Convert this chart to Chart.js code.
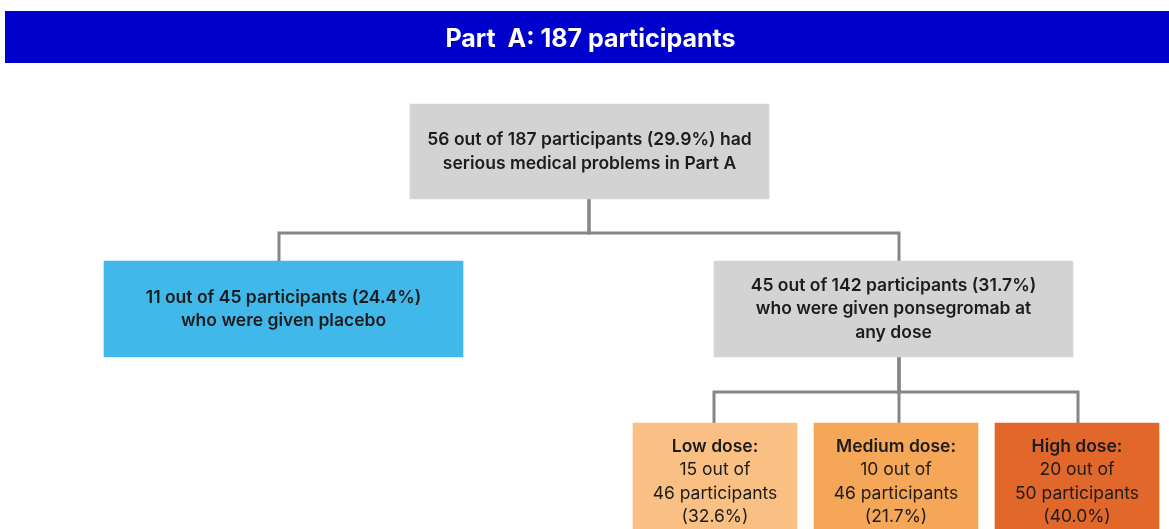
<!DOCTYPE html>
<html>
<head>
<meta charset="utf-8">
<script src="https://cdn.jsdelivr.net/npm/chart.js@4.4.1/dist/chart.umd.min.js"></script>
<style>
  html, body { margin: 0; padding: 0; background: #ffffff; }
  #wrap { width: 1169px; height: 529px; position: relative; }
</style>
</head>
<body>
<div id="wrap"><canvas id="c"></canvas></div>
<script>
// ---------------- DATA ----------------
const titleText = 'Part  A: 187 participants';
const nodeIds = ['root', 'placebo', 'ponsegromab', 'low', 'medium', 'high'];
const nodeParent = [null, 0, 0, 2, 2, 2];
const nodeLevel = [0, 1, 1, 2, 2, 2];
const withProblems = [56, 11, 45, 15, 10, 20];
const participants = [187, 45, 142, 46, 46, 50];
const percentLabels = ['29.9%', '24.4%', '31.7%', '32.6%', '21.7%', '40.0%'];
const doseNames = [null, null, null, 'Low dose:', 'Medium dose:', 'High dose:'];

// text lines built from the data
function nodeLines(i) {
  const n = withProblems[i], t = participants[i], p = percentLabels[i];
  if (i === 0) return [{ t: `${n} out of ${t} participants (${p}) had`, b: true }, { t: 'serious medical problems in Part A', b: true }];
  if (i === 1) return [{ t: `${n} out of ${t} participants (${p})`, b: true }, { t: 'who were given placebo', b: true }];
  if (i === 2) return [{ t: `${n} out of ${t} participants (${p})`, b: true }, { t: 'who were given ponsegromab at', b: true }, { t: 'any dose', b: true }];
  return [{ t: doseNames[i], b: true }, { t: `${n} out of`, b: false }, { t: `${t} participants`, b: false }, { t: `(${p})`, b: false }];
}

// ---------------- LAYOUT / STYLE ----------------
const LAYOUT = {
  centerX: [589.5, 283.5, 893.5, 715, 896, 1077],
  anchorX: [589, 279, 899, 714, 899, 1078],
  levelTop: [41, 198, 360],
  levelBottom: [136, 294, 477],
  busY: [170, 329],
  boxWidth: [359, 359, 164]
};
const COLORS = ['#D3D3D3', '#41B8EA', '#D3D3D3', '#FAC083', '#F6A657', '#E2672A'];
const LINE_COLOR = '#868686';
const TEXT_COLOR = '#1c1c1c';
const FONT = 'Inter, "Noto Sans", sans-serif';

// ---------------- DATASETS ----------------
const datasets = [];
// boxes: one floating-bar dataset per level
[0, 1, 2].forEach(level => {
  const idx = nodeIds.map((_, i) => i).filter(i => nodeLevel[i] === level);
  datasets.push({
    type: 'bar',
    label: 'level' + level,
    nodeIndex: idx,
    data: idx.map(i => ({ x: LAYOUT.centerX[i], y: [LAYOUT.levelTop[level], LAYOUT.levelBottom[level]] })),
    backgroundColor: idx.map(i => COLORS[i]),
    borderWidth: 0,
    barThickness: LAYOUT.boxWidth[level],
    grouped: false,
    order: 1
  });
});
// connectors: one elbow line per child
nodeIds.forEach((_, i) => {
  const p = nodeParent[i];
  if (p === null) return;
  const pl = nodeLevel[p], cl = nodeLevel[i];
  datasets.push({
    type: 'line',
    label: 'link' + i,
    data: [
      { x: LAYOUT.anchorX[p], y: LAYOUT.levelBottom[pl] },
      { x: LAYOUT.anchorX[p], y: LAYOUT.busY[pl] },
      { x: LAYOUT.anchorX[i], y: LAYOUT.busY[pl] },
      { x: LAYOUT.anchorX[i], y: LAYOUT.levelTop[cl] }
    ],
    borderColor: LINE_COLOR,
    borderWidth: 3,
    pointRadius: 0,
    fill: false,
    tension: 0,
    borderJoinStyle: 'miter',
    order: 2
  });
});

// ---------------- PLUGINS ----------------
const bandPlugin = {
  id: 'band',
  beforeDraw(chart) {
    const tb = chart.titleBlock;
    const ctx = chart.ctx;
    ctx.save();
    ctx.fillStyle = '#0000CC';
    ctx.fillRect(5, tb.top, chart.width - 5, tb.height);
    ctx.restore();
  }
};
const textPlugin = {
  id: 'boxText',
  afterDatasetsDraw(chart) {
    const ctx = chart.ctx;
    ctx.save();
    ctx.fillStyle = TEXT_COLOR;
    ctx.textAlign = 'center';
    ctx.textBaseline = 'middle';
    chart.data.datasets.forEach((ds, di) => {
      if (ds.type !== 'bar') return;
      const meta = chart.getDatasetMeta(di);
      meta.data.forEach((el, k) => {
        const i = ds.nodeIndex[k];
        const { x, y, base } = el.getProps(['x', 'y', 'base'], true);
        const cy = (y + base) / 2;
        const lines = nodeLines(i);
        const lh = 23.5;
        const start = cy - (lines.length - 1) * lh / 2;
        lines.forEach((ln, j) => {
          ctx.font = (ln.b ? '600 ' : '400 ') + '17.5px ' + FONT;
          ctx.fillText(ln.t, x, start + j * lh);
        });
      });
    });
    ctx.restore();
  }
};

new Chart(document.getElementById('c'), {
  type: 'bar',
  data: { datasets },
  options: {
    responsive: true,
    maintainAspectRatio: false,
    devicePixelRatio: 1,
    animation: false,
    events: [],
    layout: { padding: { top: 11, left: 12, right: 0, bottom: 0 } },
    plugins: {
      legend: { display: false },
      tooltip: { enabled: false },
      title: {
        display: true,
        text: titleText,
        color: '#ffffff',
        font: { family: FONT, size: 25, weight: 'bold', lineHeight: 1 },
        padding: { top: 16, bottom: 11 }
      }
    },
    scales: {
      x: { type: 'linear', display: false, min: 12, max: 1169, offset: false, grid: { display: false } },
      y: { type: 'linear', display: false, min: 0, max: 466, reverse: true, grid: { display: false } }
    }
  },
  plugins: [bandPlugin, textPlugin]
});
</script>
</body>
</html>
